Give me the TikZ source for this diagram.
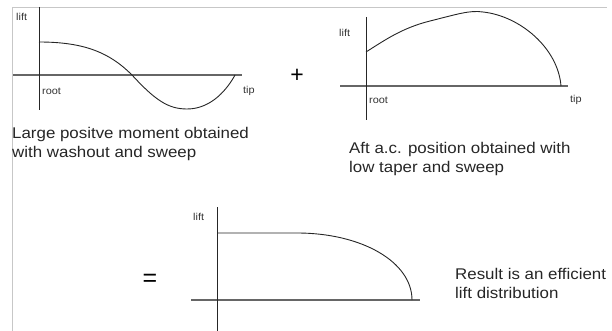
\documentclass[tikz,border=0pt]{standalone}
\usepackage{fontspec}
\setmainfont{Liberation Sans}
\newfontfamily\capfont[FakeStretch=1.09]{Liberation Sans}
\begin{document}
\begin{tikzpicture}[x=1pt,y=-1pt,
  axisv/.style={draw=black!85,line width=0.9pt},
  axish/.style={draw=black!60,line width=1.1pt},
  curve/.style={draw=black!85,line width=0.9pt},
  small/.style={font=\capfont\fontsize{10}{12}\selectfont,inner sep=0pt,text=black!80},
  caption/.style={font=\capfont\fontsize{15.5}{19}\selectfont,inner sep=0pt,align=left,anchor=north west,text=black!85},
  frameline/.style={draw=black!22,line width=0.8pt}]
\useasboundingbox (0,0) rectangle (612,331);
% frame
\coordinate (fa) at (12,331);
\coordinate (fb) at (12,7);
\coordinate (fc) at (607,7);
\draw[frameline] (fa) -- (fb) -- (fc);
% graph 1
\coordinate (v1a) at (39,7);
\coordinate (v1b) at (39,110);
\coordinate (h1a) at (13,75);
\coordinate (h1b) at (242,75);
\draw[axish] (h1a) -- (h1b);
\draw[axisv] (v1a) -- (v1b);
\draw[curve] (39,42) .. controls (85,42) and (110,53) .. (132,75)
  .. controls (155,100) and (168,109) .. (187,109)
  .. controls (212,109) and (228,88) .. (235,75);
\node[small,anchor=west] (l1) at (16,17) {lift};
\node[small,anchor=west] (r1) at (42,91) {root};
\node[small,anchor=west] (t1) at (243,91) {tip};
\node[caption] (c1) at (12,127) {Large positve moment obtained\\with washout and sweep};
% plus
\node[font=\fontsize{23}{23}\selectfont,inner sep=0pt] (plus) at (297,76) {+};
% graph 2
\coordinate (v2a) at (366,17);
\coordinate (v2b) at (366,120);
\coordinate (h2a) at (340,86);
\coordinate (h2b) at (568,86);
\draw[axish] (h2a) -- (h2b);
\draw[axisv] (v2a) -- (v2b);
\draw[curve] (366,52) .. controls (385,40) and (402,28) .. (430,21)
  .. controls (458,14) and (470,10) .. (483,12)
  .. controls (520,16) and (558,48) .. (561,86);
\node[small,anchor=west] (l2) at (339,33) {lift};
\node[small,anchor=west] (r2) at (369,100) {root};
\node[small,anchor=west] (t2) at (570,100) {tip};
\node[caption] (c2) at (349,142) {Aft a.c. position obtained with\\low taper and sweep};
% equals
\node[font=\fontsize{25}{25}\selectfont,inner sep=0pt] (eq) at (150,280) {=};
% graph 3
\coordinate (v3a) at (217,207);
\coordinate (v3b) at (217,331);
\coordinate (h3a) at (191,300);
\coordinate (h3b) at (420,300);
\draw[axish] (h3a) -- (h3b);
\draw[axisv] (v3a) -- (v3b);
\draw[curve] (217,233) -- (297,233) .. controls (362,233) and (412,262) .. (412,300);
\node[small,anchor=west] (l3) at (193,217) {lift};
\node[caption] (c3) at (455,268) {Result is an efficient\\lift distribution};
\end{tikzpicture}
\end{document}
